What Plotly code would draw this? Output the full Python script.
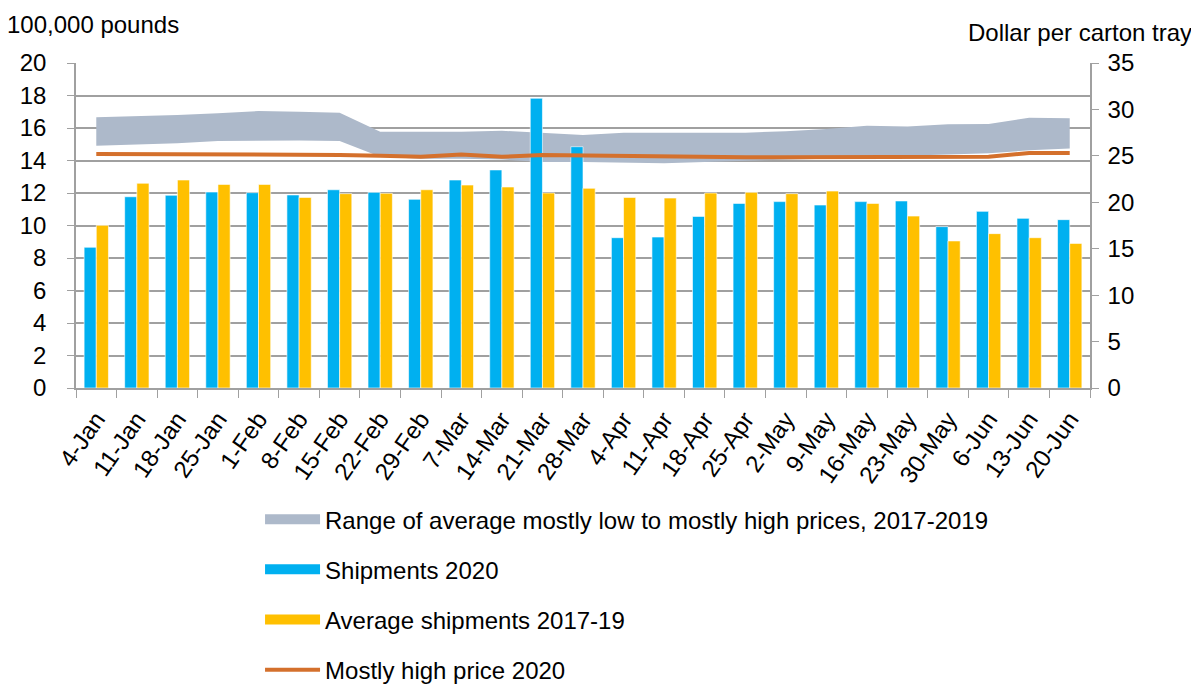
import plotly.graph_objects as go

# weekly categories
weeks = ['4-Jan', '11-Jan', '18-Jan', '25-Jan', '1-Feb', '8-Feb', '15-Feb', '22-Feb',
         '29-Feb', '7-Mar', '14-Mar', '21-Mar', '28-Mar', '4-Apr', '11-Apr', '18-Apr',
         '25-Apr', '2-May', '9-May', '16-May', '23-May', '30-May', '6-Jun', '13-Jun', '20-Jun']

# shipments, 100,000 pounds (left axis)
ship_2020 = [8.66, 11.77, 11.86, 12.06, 12.02, 11.88, 12.2, 12.04, 11.61, 12.8, 13.42, 17.83,
             14.85, 9.25, 9.29, 10.56, 11.36, 11.47, 11.26, 11.47, 11.51, 9.93, 10.87, 10.44, 10.36]
ship_avg_1719 = [10.01, 12.6, 12.8, 12.53, 12.53, 11.73, 11.96, 11.98, 12.2, 12.49, 12.37, 12.0,
                 12.29, 11.73, 11.69, 12.0, 12.04, 11.96, 12.12, 11.36, 10.58, 9.05, 9.5, 9.25, 8.9]

# prices, dollar per carton tray (right axis)
price_low_1719 = [26.1, 26.2, 26.35, 26.6, 26.65, 26.65, 26.6, 24.9, 24.7, 24.7, 24.6, 24.35,
                  24.35, 24.3, 24.2, 24.35, 24.45, 24.6, 24.7, 24.9, 25.05, 25.15, 25.27, 25.6, 25.8]
price_high_1719 = [29.15, 29.26, 29.4, 29.6, 29.83, 29.76, 29.65, 27.6, 27.6, 27.6, 27.7, 27.5,
                   27.25, 27.5, 27.5, 27.5, 27.5, 27.65, 27.9, 28.25, 28.15, 28.4, 28.43, 29.1, 29.05]
price_high_2020 = [25.2, 25.2, 25.2, 25.2, 25.2, 25.2, 25.1, 25.0, 24.9, 25.15, 24.9, 25.1,
                   25.05, 24.9, 24.85, 24.85, 24.85, 24.85, 24.85, 24.85, 24.85, 24.85, 24.9, 25.3, 25.3]

FONT = 'Liberation Sans, Arial, sans-serif'
GRID = '#A0A0A0'
BAND = '#ADB9CA'
BLUE = '#00B0F0'
GOLD = '#FFC000'
ORANGE = '#D4702C'

fig = go.Figure()

# price range band (drawn under the bars)
fig.add_trace(go.Scatter(x=weeks, y=price_low_1719, yaxis='y', mode='lines',
                         line=dict(width=0, color=BAND), showlegend=False, hoverinfo='skip'))
fig.add_trace(go.Scatter(x=weeks, y=price_high_1719, yaxis='y', mode='lines',
                         fill='tonexty', fillcolor=BAND, line=dict(width=0, color=BAND),
                         showlegend=False))

# shipments bars
fig.add_trace(go.Bar(x=weeks, y=ship_2020, yaxis='y2', name='Shipments 2020', showlegend=False,
                     marker=dict(color=BLUE, line=dict(color='rgba(255,255,255,0.6)', width=1))))
fig.add_trace(go.Bar(x=weeks, y=ship_avg_1719, yaxis='y2', name='Average shipments 2017-19',
                     showlegend=False,
                     marker=dict(color=GOLD, line=dict(color='rgba(255,255,255,0.6)', width=1))))

# 2020 price line (on top)
fig.add_trace(go.Scatter(x=weeks, y=price_high_2020, yaxis='y3', mode='lines',
                         line=dict(color=ORANGE, width=4), showlegend=False))

# legend entries drawn as wide swatches like the original
legend_items = [('Range of average mostly low to mostly high prices, 2017-2019', BAND, 14),
                ('Shipments 2020', BLUE, 14),
                ('Average shipments 2017-19', GOLD, 14),
                ('Mostly high price 2020', ORANGE, 4)]
for i, (name, color, w) in enumerate(legend_items):
    fig.add_trace(go.Scatter(x=[None], y=[None], yaxis='y3', mode='lines', name=name,
                             line=dict(color=color, width=w), legendgroup=str(i)))

# the page adds an 8px body margin, so margins are set 8px smaller on top/left
fig.update_layout(
    width=1199, height=684,
    margin=dict(l=68, r=117, t=55, b=304),
    paper_bgcolor='white', plot_bgcolor='white',
    font=dict(family=FONT, size=24, color='black'),
    barmode='group', bargap=0.4, bargroupgap=0,
    xaxis=dict(type='category', tickangle=-55, tickfont=dict(size=24), automargin=False,
               showline=True, linecolor=GRID, linewidth=1.5,
               ticks='outside', tickson='boundaries', ticklen=8, tickcolor=GRID,
               ticklabelstandoff=6, showgrid=False),
    yaxis=dict(side='right', range=[0, 35], dtick=5, showgrid=False, automargin=False,
               showline=True, linecolor=GRID, linewidth=1.5,
               ticks='outside', ticklen=7, tickcolor=GRID, ticklabelstandoff=4,
               zeroline=False),
    yaxis2=dict(side='left', overlaying='y', range=[0, 20], dtick=2, automargin=False,
                showgrid=True, gridcolor=GRID, gridwidth=1.5,
                showline=True, linecolor=GRID, linewidth=1.5,
                ticks='outside', ticklen=7, tickcolor=GRID, ticklabelstandoff=16,
                zeroline=False),
    yaxis3=dict(overlaying='y', range=[0, 35], visible=False),
    legend=dict(xref='paper', yref='container', x=0.1815, y=0.285,
                xanchor='left', yanchor='top', orientation='v',
                tracegroupgap=16, itemwidth=55,
                font=dict(size=24), bgcolor='rgba(0,0,0,0)'),
    annotations=[
        dict(text='100,000 pounds', xref='paper', yref='paper', x=-0.070, y=1.117,
             xanchor='left', yanchor='middle', showarrow=False, font=dict(size=24)),
        dict(text='Dollar per carton tray', xref='paper', yref='paper', x=1.1026, y=1.095,
             xanchor='right', yanchor='middle', showarrow=False, font=dict(size=24)),
    ],
)

fig.write_html('out.html')
